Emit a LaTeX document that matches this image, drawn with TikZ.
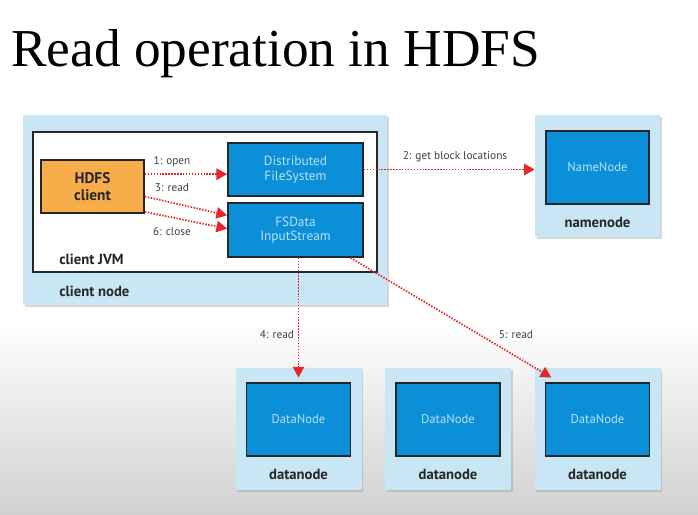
\documentclass[tikz,border=0pt]{standalone}
\usepackage{fontspec}
\setmainfont{Liberation Serif}
\setsansfont{PT Sans}
\usetikzlibrary{arrows.meta,shadows,positioning}

\definecolor{hostblue}{HTML}{C9E6F4}
\definecolor{procblue}{HTML}{0A8FD8}
\definecolor{proctext}{HTML}{B9E3F7}
\definecolor{clientorange}{HTML}{F7AE4A}
\definecolor{flowred}{HTML}{E4262B}

\tikzset{
  host/.style={fill=hostblue, draw=none, inner sep=0pt,
               drop shadow={shadow xshift=1.2pt, shadow yshift=-1.2pt, opacity=0.3}},
  jvmbox/.style={fill=white, draw=black!85, line width=1.3pt, inner sep=0pt},
  proc/.style={draw=black!85, line width=1.3pt, fill=procblue, text=proctext,
               font=\sffamily\fontsize{10}{11}\selectfont, align=center, inner sep=0pt},
  clientbox/.style={proc, fill=clientorange, text=black!85,
                    font=\sffamily\bfseries\fontsize{11.5}{13}\selectfont},
  hostlabel/.style={font=\sffamily\bfseries\fontsize{11}{13}\selectfont, text=black!85, inner sep=0pt},
  flow/.style={draw=flowred, dash pattern=on 1.1pt off 1.1pt, line width=1.3pt,
               -{Triangle[length=8pt,width=8.5pt]}},
  flowlabel/.style={font=\sffamily\fontsize{8.5}{10}\selectfont, text=black!75, inner sep=0pt}
}

\begin{document}
\begin{tikzpicture}[x=0.75pt, y=-0.75pt]
  \useasboundingbox (0,0) rectangle (698,514);
  \fill[white] (0,0) rectangle (698,514);
  \shade[top color=white, bottom color=black!18] (0,320) rectangle (698,514);

  \node[anchor=base west, inner sep=0pt, font=\fontsize{40}{44}\selectfont] (title) at (11,66)
    {Read operation in HDFS};

  % client side
  \node[host, minimum width=273pt, minimum height=142.5pt] (cnode) at (205,210) {};
  \node[jvmbox, minimum width=258pt, minimum height=105pt] (jvm) at (205,202) {};
  \node[clientbox, minimum width=77.25pt, minimum height=39.75pt] (client) at (92.5,186.5) {HDFS\\client};
  \node[proc, minimum width=101.25pt, minimum height=39.75pt] (dfs) at (295.5,169.5) {Distributed\\FileSystem};
  \node[proc, minimum width=101.25pt, minimum height=40.5pt] (fsin) at (295.5,230) {FSData\\InputStream};
  \node[hostlabel, anchor=west] (jvmlabel) at (59,259) {client JVM};
  \node[hostlabel, anchor=west] (cnodelabel) at (59,291) {client node};

  % namenode
  \node[host, minimum width=93.75pt, minimum height=91.5pt] (nn) at (597.5,176) {};
  \node[proc, minimum width=77.25pt, minimum height=54.75pt, font=\sffamily\fontsize{9.5}{11}\selectfont]
    (nnin) at (597.5,167.5) {NameNode};
  \node[hostlabel] (nnlabel) at (597.5,222) {namenode};

  % datanodes
  \foreach \i/\x in {1/298.5, 2/448, 3/597.5} {
    \node[host, minimum width=94.5pt, minimum height=91.5pt] (dn\i) at (\x,429) {};
    \node[proc, minimum width=78pt, minimum height=54.75pt, font=\sffamily\fontsize{9.5}{11}\selectfont]
      (dnin\i) at (\x,419.5) {DataNode};
    \node[hostlabel] (dnlabel\i) at (\x,474) {datanode};
  }

  % flows
  \coordinate (opentip) at ([yshift=-3.5pt]dfs.west);
  \draw[flow] (opentip -| client.east) -- (opentip);
  \draw[flow] ([yshift=-7.5pt]client.east) -- ([yshift=11pt]fsin.west);
  \draw[flow] ([yshift=1.5pt]client.south east) -- ([yshift=1pt]fsin.west);
  \draw[flow] (dfs.east) -- (dfs.east -| nn.west);
  \draw[flow] (dnin1.north |- fsin.south) -- ([yshift=3.5pt]dnin1.north);
  \draw[flow] ([xshift=-10pt]fsin.south east) -- ([xshift=5pt,yshift=3.5pt]dnin3.north west);

  \node[flowlabel] (openlabel) at (172,162) {1: open};
  \node[flowlabel] (readlabel) at (172,188) {3: read};
  \node[flowlabel] (closelabel) at (172,232) {6: close};
  \node[flowlabel] (blocklabel) at (455,157) {2: get block locations};
  \node[flowlabel] (read4label) at (277,335) {4: read};
  \node[flowlabel] (read5label) at (516,335) {5: read};
\end{tikzpicture}
\end{document}
